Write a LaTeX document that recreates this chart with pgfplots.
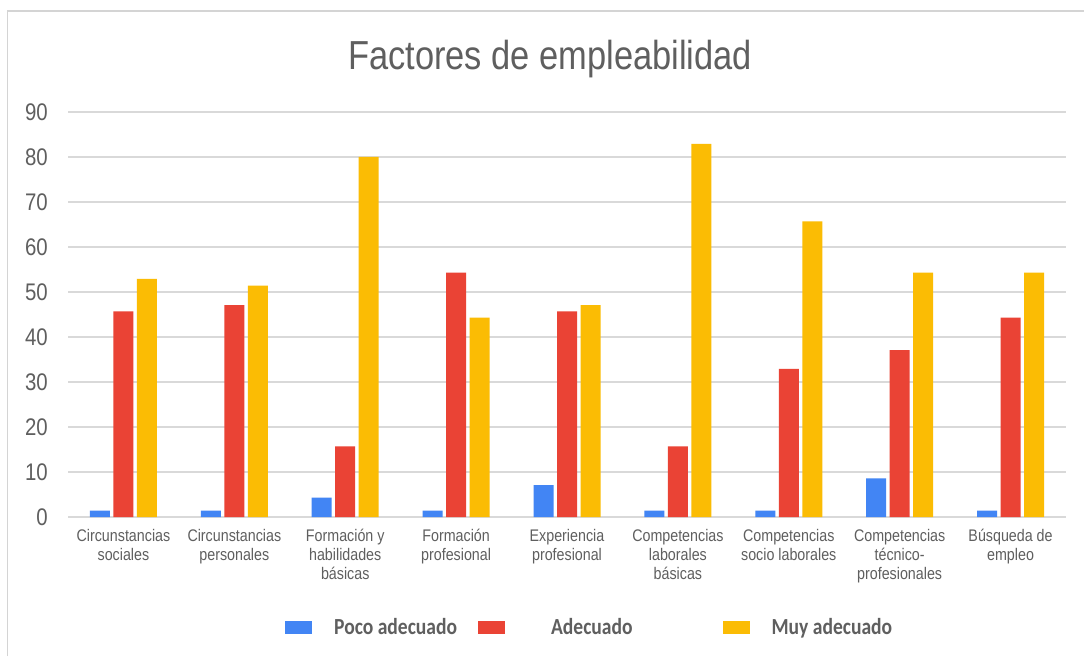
\documentclass[border=0pt]{standalone}
\usepackage{fontspec}
\usepackage{pgfplots}
\usepackage{pgfplotstable}
\pgfplotsset{compat=1.18}
\setmainfont{Liberation Sans}
\newfontfamily\narrowfont[FakeStretch=0.85]{Liberation Sans}
\newfontfamily\legfont[FakeStretch=0.85]{Carlito}
\definecolor{cblue}{HTML}{4285F4}
\definecolor{cred}{HTML}{EA4335}
\definecolor{cyellow}{HTML}{FBBC04}
\definecolor{gridc}{HTML}{D9D9D9}
\definecolor{txt}{HTML}{5F5F5F}
\definecolor{framec}{HTML}{D4D4D4}

\pgfplotstableread{
x poco adec muy
0 1.4 45.7 52.9
1 1.4 47.1 51.4
2 4.3 15.7 80.0
3 1.4 54.3 44.3
4 7.1 45.7 47.1
5 1.4 15.7 82.9
6 1.4 32.9 65.7
7 8.6 37.1 54.3
8 1.4 44.3 54.3
}\datatable

\begin{document}
\begin{tikzpicture}
\useasboundingbox (0,0) rectangle (1084pt,656pt);
\fill[white] (0,0) rectangle (1084pt,656pt);
\draw[framec, line width=1.5pt] (7.5pt,0) -- (7.5pt,645pt) -- (1084pt,645pt);
\begin{axis}[
  at={(68pt,139pt)}, anchor=south west,
  scale only axis, width=998pt, height=405pt,
  ybar=3.5pt, bar width=20pt,
  xmin=-0.5, xmax=8.5, ymin=0, ymax=90,
  ytick={0,10,...,90},
  xtick=data,
  xticklabels={{Circunstancias\\sociales},{Circunstancias\\personales},{Formación y\\habilidades\\básicas},{Formación\\profesional},{Experiencia\\profesional},{Competencias\\laborales\\básicas},{Competencias\\socio laborales},{Competencias\\técnico-\\profesionales},{Búsqueda de\\empleo}},
  axis line style={draw=none},
  major tick length=0pt,
  ymajorgrids, grid style={gridc, line width=1.5pt},
  /pgf/number format/assume math mode=true,
  yticklabel style={font=\narrowfont\fontsize{24}{24}\selectfont, text=txt, inner sep=0pt, xshift=-20pt},
  xticklabel style={font=\narrowfont\fontsize{16.8}{19}\selectfont, text=txt, align=center, inner sep=0pt, yshift=-12pt},
  title={Factores de empleabilidad},
  title style={font=\narrowfont\fontsize{40.5}{40.5}\selectfont, text=txt, at={(0.483,1)}, anchor=base, yshift=36pt},
  legend columns=3,
  legend style={at={(0.2174,-0.2716)}, anchor=west, draw=none, fill=none, inner sep=0pt,
    font=\legfont\bfseries\fontsize{23}{23}\selectfont, text=txt,
    nodes={inner sep=0pt},
    /tikz/every odd column/.append style={column sep=22pt},
    /tikz/every even column/.append style={column sep=21pt}},
  legend image code/.code={\fill[#1] (0pt,-6.5pt) rectangle (27pt,6.5pt);},
]
\addplot[fill=cblue, draw=none] table[x=x, y=poco] {\datatable};
\addplot[fill=cred, draw=none] table[x=x, y=adec] {\datatable};
\addplot[fill=cyellow, draw=none] table[x=x, y=muy] {\datatable};
\legend{Poco adecuado, \kern24pt Adecuado\kern69pt\relax, Muy adecuado}
\end{axis}
\end{tikzpicture}
\end{document}
